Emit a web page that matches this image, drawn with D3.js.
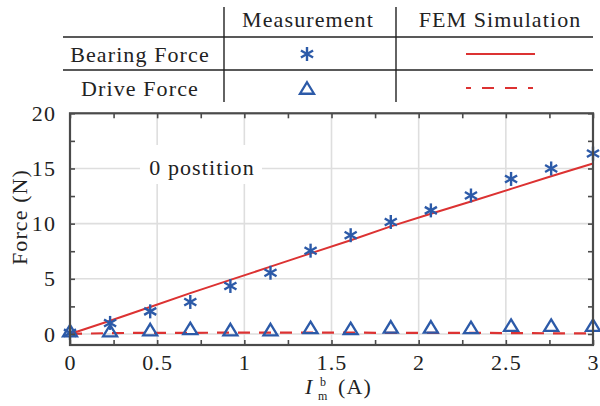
<!DOCTYPE html>
<html>
<head>
<meta charset="utf-8">
<script src="https://cdn.jsdelivr.net/npm/d3@7"></script>
<style>
  body { margin: 0; background: #fff; }
  svg text { font-family: "Liberation Serif", "DejaVu Serif", serif; fill: #222; letter-spacing: 1.1px; }
</style>
</head>
<body>
<div id="chart"></div>
<script>
// current values (A)
const current = [0, 0.23, 0.46, 0.69, 0.92, 1.15, 1.38, 1.61, 1.84, 2.07, 2.3, 2.53, 2.76, 3];

// measurement
const bearingMeas = [0.1, 1.0, 2.05, 2.9, 4.35, 5.55, 7.55, 8.95, 10.15, 11.2, 12.55, 14.05, 15.0, 16.35];
const driveMeas = [0.3, 0.3, 0.4, 0.5, 0.4, 0.4, 0.6, 0.5, 0.65, 0.65, 0.6, 0.8, 0.8, 0.8];

// FEM simulation
const bearingFem = [0, 1.2, 2.45, 3.7, 4.9, 6.1, 7.3, 8.5, 9.75, 10.9, 12.0, 13.15, 14.3, 15.45];
const driveFem = [0, 0.08, 0.1, 0.1, 0.12, 0.12, 0.12, 0.12, 0.1, 0.1, 0.1, 0.08, 0.06, 0.05];

const xTicks = [0, 0.5, 1, 1.5, 2, 2.5, 3];
const yTicks = [0, 5, 10, 15, 20];
const rowLabels = ["Bearing Force", "Drive Force"];
const colLabels = ["Measurement", "FEM Simulation"];

const blue = "#2c5aa8", red = "#dc3232", axisCol = "#4a4a4a";
const fs = "22px";

const W = 600, H = 406;
const svg = d3.select("#chart").append("svg").attr("width", W).attr("height", H);

const x = d3.scaleLinear().domain([0, 3]).range([70, 593]);
const y = d3.scaleLinear().domain([-1, 20]).range([345, 113.3]);

//grid lines
const grid = svg.append("g");
grid.selectAll(".gx").data(xTicks).enter().append("line")
    .attr("x1", d => x(d)).attr("x2", d => x(d))
    .attr("y1", y(-1)).attr("y2", y(20))
    .attr("stroke", "#dedede").attr("stroke-width", 1.6);
grid.selectAll(".gy").data(yTicks).enter().append("line")
    .attr("x1", x(0)).attr("x2", x(3))
    .attr("y1", d => y(d)).attr("y2", d => y(d))
    .attr("stroke", "#dedede").attr("stroke-width", 1.6);

// label with white background
svg.append("rect").attr("x", 140).attr("y", 145).attr("width", 122).attr("height", 39).attr("fill", "#fff");
svg.append("text").attr("x", 202).attr("y", 175).attr("text-anchor", "middle")
    .style("font-size", fs).text("0 postition");

// lines
const line = vals => d3.line().x((d, i) => x(current[i])).y(d => y(d))(vals);
svg.append("path").attr("d", line(bearingFem)).attr("fill", "none")
    .attr("stroke", red).attr("stroke-width", 2);
svg.append("path").attr("d", line(driveFem)).attr("fill", "none")
    .attr("stroke", red).attr("stroke-width", 2.2).attr("stroke-dasharray", "12,9");

// markers
function star(g, cx, cy, r) {
    const angles = [90, 30, 150];
    angles.forEach(a => {
        const dx = r * Math.cos(a * Math.PI / 180), dy = r * Math.sin(a * Math.PI / 180);
        g.append("line").attr("x1", cx - dx).attr("x2", cx + dx).attr("y1", cy - dy).attr("y2", cy + dy)
            .attr("stroke", blue).attr("stroke-width", 2.4);
    });
}
function tri(g, cx, cy, s) {
    const h = s * 0.82;
    g.append("path")
        .attr("d", `M${cx},${cy - h / 2}L${cx + s / 2},${cy + h / 2}L${cx - s / 2},${cy + h / 2}Z`)
        .attr("fill", "none").attr("stroke", blue).attr("stroke-width", 2.3).attr("stroke-linejoin", "miter");
}

const marks = svg.append("g");
driveMeas.forEach((d, i) => tri(marks, x(current[i]), y(d), 14));
bearingMeas.forEach((d, i) => star(marks, x(current[i]), y(d), 7));

// axes (ticks inward, box around)
const minorX = d3.range(0, 3.001, 0.25);
const minorY = d3.range(0, 20.001, 2.5);
const fmt = d => (Math.abs(d * 2 - Math.round(d * 2)) < 1e-6 ? d3.format("")(d) : "");
const fmtY = d => (d % 5 === 0 ? d : "");

const xAxisB = svg.append("g").attr("transform", `translate(0,${y(-1)})`)
    .call(d3.axisBottom(x).tickValues(minorX).tickSize(-5).tickPadding(9).tickFormat(fmt));
const xAxisT = svg.append("g").attr("transform", `translate(0,${y(20)})`)
    .call(d3.axisTop(x).tickValues(minorX).tickSize(-5).tickFormat(""));
const yAxisL = svg.append("g").attr("transform", `translate(${x(0)},0)`)
    .call(d3.axisLeft(y).tickValues(minorY).tickSize(-5).tickPadding(14).tickFormat(fmtY));
const yAxisR = svg.append("g").attr("transform", `translate(${x(3)},0)`)
    .call(d3.axisRight(y).tickValues(minorY).tickSize(-5).tickFormat(""));

[xAxisB, xAxisT, yAxisL, yAxisR].forEach(a => {
    a.select(".domain").remove();
    a.selectAll("line").attr("stroke", axisCol).attr("stroke-width", 1.6);
    a.selectAll("text").style("font-size", fs).style("font-family", "Liberation Serif, serif").attr("fill", "#222");
});
svg.append("rect").attr("x", x(0)).attr("y", y(20)).attr("width", x(3) - x(0)).attr("height", y(-1) - y(20))
    .attr("fill", "none").attr("stroke", axisCol).attr("stroke-width", 2.2);

// axis labels
svg.append("text").attr("transform", "translate(27,217) rotate(-90)").attr("text-anchor", "middle")
    .style("font-size", fs).text("Force (N)");
const xlab = svg.append("g").style("font-size", fs);
xlab.append("text").attr("x", 305).attr("y", 394).style("font-style", "italic").style("letter-spacing", "0px").text("I");
xlab.append("text").attr("x", 318).attr("y", 400).style("font-size", "12px").style("letter-spacing", "0px").text("m");
xlab.append("text").attr("x", 320).attr("y", 385.5).style("font-size", "12px").style("letter-spacing", "0px").text("b");
xlab.append("text").attr("x", 338).attr("y", 394).text("(A)");

// legend table
const tbl = svg.append("g");
[37, 70].forEach(yy => tbl.append("line").attr("x1", 63).attr("x2", 593).attr("y1", yy).attr("y2", yy)
    .attr("stroke", "#222").attr("stroke-width", 1.4));
[224, 396].forEach(xx => tbl.append("line").attr("x1", xx).attr("x2", xx).attr("y1", 7).attr("y2", 102)
    .attr("stroke", "#222").attr("stroke-width", 1.4));
const colX = [308, 500], rowY = [54, 88];
colLabels.forEach((c, i) => tbl.append("text").attr("x", colX[i]).attr("y", 27)
    .attr("text-anchor", "middle").style("font-size", fs).text(c));
rowLabels.forEach((r, i) => tbl.append("text").attr("x", 140).attr("y", rowY[i] + 8)
    .attr("text-anchor", "middle").style("font-size", fs).text(r));
star(tbl, 307, rowY[0], 7);
tri(tbl, 307, rowY[1], 14);
tbl.append("line").attr("x1", 466).attr("x2", 535).attr("y1", rowY[0]).attr("y2", rowY[0])
    .attr("stroke", red).attr("stroke-width", 2);
tbl.append("line").attr("x1", 466).attr("x2", 535).attr("y1", rowY[1]).attr("y2", rowY[1])
    .attr("stroke", red).attr("stroke-width", 2.2).attr("stroke-dasharray", "5,11,12,11,12,11,5");
</script>
</body>
</html>
